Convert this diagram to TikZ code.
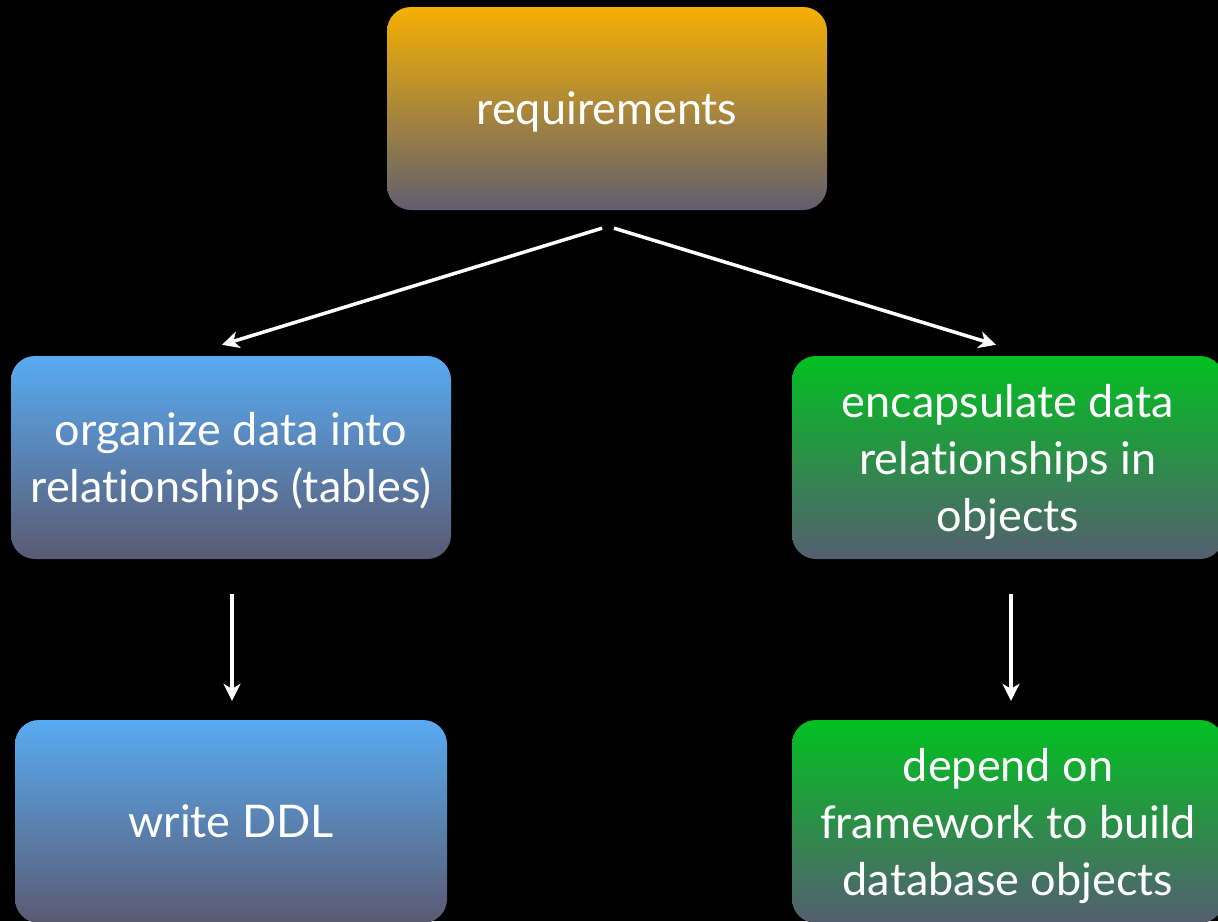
\documentclass[tikz,border=0pt]{standalone}
\usepackage{fontspec}
\setmainfont{Lato}[Ligatures={NoCommon,NoRequired,NoContextual}]
\usetikzlibrary{arrows.meta,calc}
\definecolor{orangetop}{RGB}{246,176,2}
\definecolor{orangebot}{RGB}{96,94,112}
\definecolor{bluetop}{RGB}{88,171,242}
\definecolor{bluebot}{RGB}{90,90,114}
\definecolor{greentop}{RGB}{2,192,32}
\definecolor{greenbot}{RGB}{84,94,112}
\begin{document}
\begin{tikzpicture}[x=1pt,y=-1pt,
  box/.style={rounded corners=24pt, minimum height=203pt, align=center,
    text=white, inner sep=0pt, text depth=-5pt, font=\fontsize{45}{57}\selectfont},
  orangebox/.style={box, top color=orangetop, bottom color=orangebot},
  bluebox/.style={box, top color=bluetop, bottom color=bluebot},
  greenbox/.style={box, top color=greentop, bottom color=greenbot},
  conn/.style={draw=white, line width=3.5pt, -{Stealth[length=17pt,width=17pt,inset=5pt]}}]
\fill[black] (0,0) rectangle (1218,921);
\useasboundingbox (0,0) rectangle (1218,921);
\clip (0,0) rectangle (1218,921);
\node[orangebox, minimum width=440pt] (req) at (607,108.5) {requirements};
\node[bluebox, minimum width=440pt] (org) at (231,457.5) {organize data into\\relationships (tables)};
\node[greenbox, minimum width=432pt] (enc) at (1008,457.5) {encapsulate data\\relationships in\\objects};
\node[bluebox, minimum width=432pt] (ddl) at (231,821.5) {write DDL};
\node[greenbox, minimum width=432pt] (dep) at (1008,821.5) {depend on\\framework to build\\database objects};
\coordinate (r1) at ($(req.south)+(-5,18)$);
\coordinate (r2) at ($(req.south)+(7,18)$);
\coordinate (o1) at ($(org.north)+(-9,-11)$);
\coordinate (e1) at ($(enc.north)+(-12,-11)$);
\coordinate (o2) at ($(org.south)+(1,35)$);
\coordinate (d1) at ($(ddl.north)+(1,-19)$);
\coordinate (e2) at ($(enc.south)+(3,35)$);
\coordinate (p1) at ($(dep.north)+(3,-19)$);
\draw[conn] (r1) -- (o1);
\draw[conn] (r2) -- (e1);
\draw[conn] (o2) -- (d1);
\draw[conn] (e2) -- (p1);
\end{tikzpicture}
\end{document}
